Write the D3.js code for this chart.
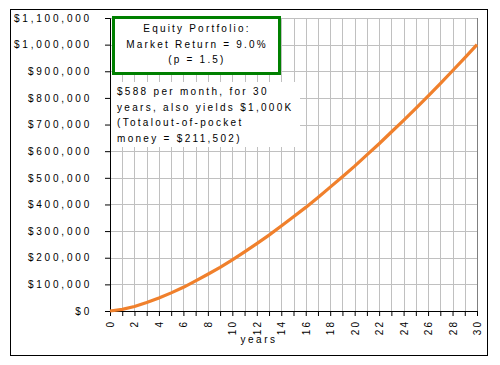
<!DOCTYPE html>
<html>
<head>
<meta charset="utf-8">
<script src="https://cdn.jsdelivr.net/npm/d3@7"></script>
<style>
  body { margin: 0; background: #fff; }
  svg text { font-family: "Liberation Sans", Arial, sans-serif; fill: #000; }
</style>
</head>
<body>
<div id="wrapper"></div>
<script>
// Data
const years = d3.range(0, 31);
const balance = [
  0, 6000, 17000, 32000, 49000, 68000, 89000, 113000, 138000, 164000,
  192000, 222000, 253000, 285000, 319000, 354000, 389000, 426000, 465000, 504000,
  544000, 586000, 628000, 672000, 716000, 761000, 807000, 854000, 902000, 950000,
  1000000,
];
const yTicks = d3.range(0, 1100001, 100000);
const xLabelTicks = d3.range(0, 31, 2);
const titleLines = ["Equity Portfolio:", "Market Return = 9.0%", "(p = 1.5)"];
const noteLines = [
  "$588 per month, for 30",
  "years, also yields $1,000K",
  "(Totalout-of-pocket",
  "money = $211,502)",
];
const xTitle = "years";

// Sizing
let dimensions = {
  width: 500,
  height: 365,
  margins: { top: 18, right: 23, bottom: 54, left: 110 },
};
dimensions.boundedWidth =
  dimensions.width - dimensions.margins.left - dimensions.margins.right;
dimensions.boundedHeight =
  dimensions.height - dimensions.margins.top - dimensions.margins.bottom;

const wrapper = d3
  .select("#wrapper")
  .append("svg")
  .attr("width", dimensions.width)
  .attr("height", dimensions.height);

// outer frame
wrapper
  .append("rect")
  .attr("x", 10.5)
  .attr("y", 9.5)
  .attr("width", 477)
  .attr("height", 346)
  .attr("fill", "none")
  .attr("stroke", "#000")
  .attr("stroke-width", 1);

const bounds = wrapper
  .append("g")
  .attr("transform", `translate(${dimensions.margins.left},${dimensions.margins.top})`);

// Scales
const xScale = d3
  .scaleLinear()
  .domain([0, 30])
  .range([0, dimensions.boundedWidth]);

const yScale = d3
  .scaleLinear()
  .domain([0, 1100000])
  .range([dimensions.boundedHeight, 0]);

// Grid
const grid = bounds.append("g").attr("stroke", "#c0c0c0").attr("stroke-width", 1);
grid
  .selectAll(".hgrid")
  .data(yTicks)
  .join("line")
  .attr("x1", 0)
  .attr("x2", dimensions.boundedWidth)
  .attr("y1", (d) => Math.round(yScale(d)) + 0.5)
  .attr("y2", (d) => Math.round(yScale(d)) + 0.5);
grid
  .selectAll(".vgrid")
  .data(years)
  .join("line")
  .attr("x1", (d) => Math.round(xScale(d)) + 0.5)
  .attr("x2", (d) => Math.round(xScale(d)) + 0.5)
  .attr("y1", 0)
  .attr("y2", dimensions.boundedHeight);

// right plot border
bounds
  .append("line")
  .attr("x1", Math.round(dimensions.boundedWidth) + 0.5)
  .attr("x2", Math.round(dimensions.boundedWidth) + 0.5)
  .attr("y1", 0)
  .attr("y2", dimensions.boundedHeight)
  .attr("stroke", "#808080");

// Axes
const yAxis = bounds
  .append("g")
  .call(
    d3.axisLeft(yScale)
      .tickValues(yTicks)
      .tickSize(5)
      .tickPadding(13)
      .tickFormat((d) => "$" + d3.format(",")(d))
  );
yAxis.select(".domain").attr("stroke", "#000");
yAxis
  .selectAll("text")
  .style("font-size", "10px")
  .style("letter-spacing", "2.8px");

const xAxis = bounds
  .append("g")
  .attr("transform", `translate(0,${dimensions.boundedHeight})`)
  .call(
    d3.axisBottom(xScale)
      .tickValues(years)
      .tickSize(5)
      .tickSizeOuter(0)
      .tickFormat((d) => (d % 2 === 0 ? d : ""))
  );
xAxis.select(".domain").attr("stroke", "#000");
xAxis
  .selectAll("text")
  .attr("transform", "rotate(-90)")
  .attr("x", -9)
  .attr("y", 0)
  .attr("dy", "0.35em")
  .style("text-anchor", "end")
  .style("font-size", "10px")
  .style("letter-spacing", "2px");

bounds
  .append("text")
  .attr("x", 149)
  .attr("y", 325)
  .style("text-anchor", "middle")
  .style("font-size", "10px")
  .style("letter-spacing", "2.5px")
  .text(xTitle);

// Curve
const lineGenerator = d3
  .line()
  .x((d, i) => xScale(years[i]))
  .y((d) => yScale(d));

bounds
  .append("path")
  .datum(balance)
  .attr("d", lineGenerator)
  .attr("fill", "none")
  .attr("stroke", "#f0802c")
  .attr("stroke-width", 3.2);

// Annotation boxes
wrapper
  .append("rect")
  .attr("x", 111)
  .attr("y", 82)
  .attr("width", 189)
  .attr("height", 65)
  .attr("fill", "#fff");

wrapper
  .selectAll(".note")
  .data(noteLines)
  .join("text")
  .attr("x", 117)
  .attr("y", (d, i) => 95 + i * 15.5)
  .style("font-size", "10px")
  .style("letter-spacing", "2.3px")
  .text((d) => d);

wrapper
  .append("rect")
  .attr("x", 113.5)
  .attr("y", 17.5)
  .attr("width", 166)
  .attr("height", 56)
  .attr("fill", "#fff")
  .attr("stroke", "#008000")
  .attr("stroke-width", 3);

wrapper
  .selectAll(".title")
  .data(titleLines)
  .join("text")
  .attr("x", 197)
  .attr("y", (d, i) => 32 + i * 15.5)
  .style("text-anchor", "middle")
  .style("font-size", "10px")
  .style("letter-spacing", "2.2px")
  .text((d) => d);
</script>
</body>
</html>
